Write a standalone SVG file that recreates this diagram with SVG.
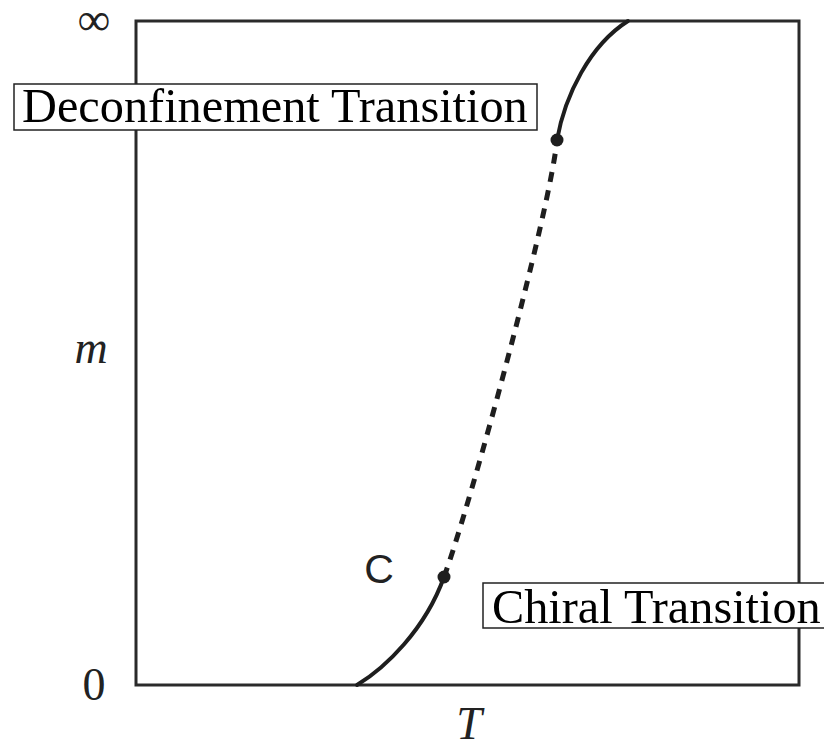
<svg xmlns="http://www.w3.org/2000/svg" width="824" height="744" viewBox="0 0 824 744">
<style>
.frame{fill:none;stroke:#2a2a2a;stroke-width:3}
.curve{fill:none;stroke:#1e1e1e;stroke-width:4;stroke-linecap:round}
.dash{fill:none;stroke:#1e1e1e;stroke-width:5;stroke-dasharray:10 8.6}
.dot{fill:#1e1e1e}
.box{fill:#fff;stroke:#222;stroke-width:1.5}
.lbl{font-family:"Liberation Serif","Times New Roman",serif;font-size:48.3px;fill:#000}
.axis{font-family:"Liberation Serif","Times New Roman",serif;font-size:46px;fill:#222}
.it{font-style:italic}
.sans{font-family:"Liberation Sans",Arial,sans-serif;font-size:41px;fill:#222}
</style>
<rect x="0" y="0" width="824" height="744" fill="#fff"/>
<g id="plot-frame">
<rect class="frame" x="136" y="21" width="663" height="664"/>
</g>
<g id="axis-labels">
<text class="axis" x="94" y="35" text-anchor="middle" font-size="42" fill="#555">∞</text>
<text class="axis" x="94" y="700" text-anchor="middle">0</text>
<text class="axis it" x="91" y="363" text-anchor="middle">m</text>
<text class="axis it" x="469" y="739" text-anchor="middle">T</text>
</g>
<g id="connectors">
<path class="curve" d="M357,685 C385,668 425,630 444,577"/>
<path class="dash" d="M444,577 C472,500 550,210 557,140"/>
<path class="curve" d="M557,140 C565,95 590,45 628,21"/>
</g>
<g id="point-C">
<circle class="dot" cx="444" cy="577" r="6.5"/>
<text class="sans" x="379" y="583" text-anchor="middle">C</text>
</g>
<g id="point-D">
<circle class="dot" cx="557" cy="140" r="6.5"/>
</g>
<g id="deconfinement-label">
<rect class="box" x="14" y="84" width="523" height="46"/>
<text class="lbl" x="22" y="122">Deconfinement Transition</text>
</g>
<g id="chiral-label">
<rect class="box" x="483" y="583" width="360" height="45"/>
<text class="lbl" x="492" y="623">Chiral Transition</text>
</g>
</svg>
